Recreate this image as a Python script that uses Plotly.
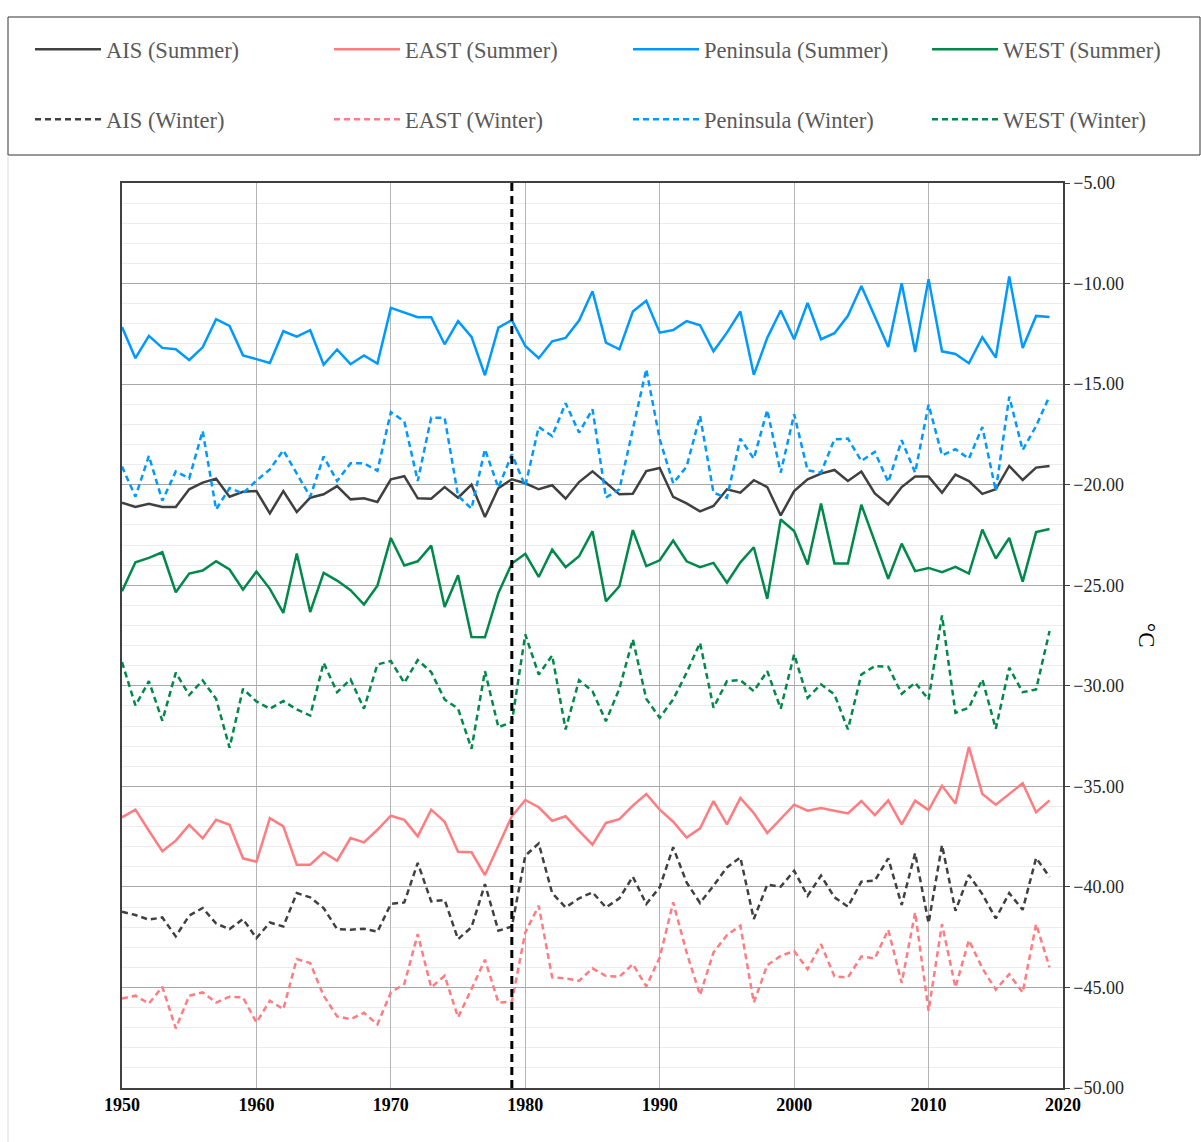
import plotly.graph_objects as go

years = list(range(1950, 2020))

pen_summer = [-12.16, -13.71, -12.60, -13.20, -13.27, -13.80, -13.17, -11.77, -12.11, -13.57,
              -13.76, -13.95, -12.37, -12.64, -12.32, -14.03, -13.28, -14.01, -13.58, -13.98,
              -11.21, -11.44, -11.67, -11.67, -13.02, -11.87, -12.65, -14.56, -12.19, -11.82,
              -13.10, -13.71, -12.87, -12.70, -11.84, -10.38, -12.94, -13.27, -11.39, -10.86,
              -12.44, -12.31, -11.87, -12.07, -13.37, -12.44, -11.39, -14.54, -12.70, -11.34,
              -12.77, -10.96, -12.77, -12.47, -11.60, -10.12, -11.64, -13.15, -9.98, -13.40,
              -9.78, -13.37, -13.50, -13.96, -12.67, -13.68, -9.65, -13.20, -11.61, -11.66]

pen_winter = [-19.10, -20.60, -18.57, -20.80, -19.34, -19.69, -17.33, -21.23, -20.17, -20.43,
              -19.80, -19.24, -18.29, -19.45, -20.60, -18.60, -19.82, -18.94, -18.94, -19.31,
              -16.39, -16.85, -19.82, -16.67, -16.67, -20.56, -21.19, -18.24, -20.15, -18.49,
              -20.07, -17.13, -17.58, -15.95, -17.41, -16.25, -20.64, -20.23, -17.28, -14.26,
              -17.74, -19.93, -19.10, -16.58, -20.40, -20.65, -17.71, -18.71, -16.29, -19.40,
              -16.50, -19.29, -19.40, -17.74, -17.71, -18.82, -18.37, -19.87, -17.79, -19.40,
              -16.02, -18.54, -18.24, -18.71, -17.13, -20.31, -15.62, -18.28, -17.08, -15.59]

ais_summer = [-20.90, -21.11, -20.95, -21.11, -21.11, -20.23, -19.90, -19.70, -20.60, -20.35,
              -20.32, -21.43, -20.32, -21.36, -20.65, -20.48, -20.07, -20.73, -20.68, -20.86,
              -19.73, -19.58, -20.68, -20.70, -20.12, -20.65, -20.00, -21.61, -20.17, -19.73,
              -19.93, -20.23, -20.03, -20.70, -19.87, -19.34, -19.90, -20.48, -20.45, -19.32,
              -19.17, -20.61, -20.93, -21.33, -21.06, -20.23, -20.40, -19.78, -20.12, -21.53,
              -20.32, -19.73, -19.45, -19.27, -19.82, -19.35, -20.44, -20.98, -20.12, -19.60,
              -19.60, -20.40, -19.50, -19.82, -20.46, -20.23, -19.07, -19.77, -19.15, -19.07]

west_summer = [-25.30, -23.86, -23.64, -23.36, -25.35, -24.42, -24.27, -23.81, -24.22, -25.22,
               -24.32, -25.18, -26.38, -23.42, -26.33, -24.39, -24.77, -25.25, -25.96, -25.02,
               -22.65, -24.02, -23.81, -23.03, -26.08, -24.50, -27.57, -27.59, -25.38, -23.92,
               -23.44, -24.59, -23.23, -24.10, -23.56, -22.31, -25.80, -25.05, -22.26, -24.05,
               -23.76, -22.78, -23.81, -24.10, -23.89, -24.88, -23.86, -23.11, -25.68, -21.73,
               -22.31, -23.97, -20.94, -23.92, -23.92, -21.00, -22.83, -24.68, -22.93, -24.30,
               -24.14, -24.35, -24.09, -24.42, -22.23, -23.67, -22.65, -24.82, -22.36, -22.20]

west_winter = [-28.82, -30.98, -29.77, -31.74, -29.35, -30.46, -29.73, -30.65, -33.08, -30.15,
               -30.78, -31.14, -30.76, -31.18, -31.48, -28.86, -30.32, -29.68, -31.14, -28.94,
               -28.77, -29.85, -28.72, -29.32, -30.68, -31.14, -33.13, -29.27, -32.06, -31.81,
               -27.45, -29.44, -28.49, -32.17, -29.72, -30.27, -31.76, -30.15, -27.69, -30.65,
               -31.59, -30.68, -29.35, -27.86, -31.09, -29.77, -29.72, -30.27, -29.27, -31.14,
               -28.44, -30.60, -29.93, -30.43, -32.17, -29.44, -29.02, -29.05, -30.40, -29.85,
               -30.68, -26.50, -31.34, -31.09, -29.68, -32.14, -29.10, -30.32, -30.18, -27.28]

east_summer = [-36.54, -36.16, -37.21, -38.23, -37.70, -36.92, -37.59, -36.66, -36.91, -38.58,
               -38.75, -36.58, -36.99, -38.90, -38.90, -38.28, -38.70, -37.57, -37.79, -37.16,
               -36.46, -36.67, -37.49, -36.16, -36.76, -38.25, -38.28, -39.41, -37.95, -36.49,
               -35.68, -36.04, -36.71, -36.49, -37.21, -37.90, -36.82, -36.63, -35.96, -35.38,
               -36.16, -36.76, -37.55, -37.09, -35.73, -36.89, -35.58, -36.33, -37.32, -36.63,
               -35.91, -36.21, -36.08, -36.21, -36.35, -35.73, -36.43, -35.70, -36.89, -35.71,
               -36.18, -34.97, -35.85, -33.04, -35.38, -35.91, -35.38, -34.85, -36.29, -35.70]

ais_winter = [-41.24, -41.40, -41.63, -41.52, -42.46, -41.43, -41.05, -41.82, -42.10, -41.60,
              -42.55, -41.77, -41.97, -40.31, -40.52, -41.05, -42.10, -42.13, -42.08, -42.23,
              -40.85, -40.77, -38.81, -40.72, -40.65, -42.60, -42.01, -39.86, -42.18, -41.97,
              -38.45, -37.84, -40.31, -41.02, -40.57, -40.27, -41.02, -40.57, -39.49, -40.85,
              -40.02, -38.03, -39.78, -40.80, -39.94, -39.03, -38.53, -41.60, -39.89, -39.99,
              -39.20, -40.44, -39.44, -40.52, -40.98, -39.74, -39.69, -38.58, -40.90, -38.32,
              -41.80, -37.92, -41.19, -39.41, -40.36, -41.57, -40.31, -41.14, -38.56, -39.51]

east_winter = [-45.55, -45.41, -45.80, -44.97, -47.04, -45.41, -45.25, -45.75, -45.46, -45.50,
               -46.74, -45.66, -46.08, -43.59, -43.79, -45.41, -46.44, -46.58, -46.26, -46.84,
               -45.25, -44.83, -42.35, -45.00, -44.42, -46.49, -45.08, -43.62, -45.75, -45.71,
               -42.26, -40.94, -44.50, -44.55, -44.67, -44.05, -44.43, -44.47, -43.84, -44.95,
               -43.51, -40.77, -43.26, -45.38, -43.26, -42.40, -41.93, -45.75, -43.89, -43.43,
               -43.19, -44.09, -42.85, -44.45, -44.50, -43.46, -43.56, -42.13, -44.78, -41.27,
               -46.16, -41.85, -45.00, -42.65, -44.05, -45.11, -44.34, -45.25, -41.85, -44.00]

break_year = 1979
x_ticks = [1950, 1960, 1970, 1980, 1990, 2000, 2010, 2020]

C_AIS = "#404040"
C_EAST = "#FF7C80"
C_PEN = "#0099FF"
C_WEST = "#00894A"
FONT = "Liberation Serif"

summer = [("AIS (Summer)", ais_summer, C_AIS),
          ("EAST (Summer)", east_summer, C_EAST),
          ("Peninsula (Summer)", pen_summer, C_PEN),
          ("WEST (Summer)", west_summer, C_WEST)]
winter = [("AIS (Winter)", ais_winter, C_AIS),
          ("EAST (Winter)", east_winter, C_EAST),
          ("Peninsula (Winter)", pen_winter, C_PEN),
          ("WEST (Winter)", west_winter, C_WEST)]

W, H = 1201, 1142
ml, mr, mt, mb = 122, 138, 183, 54
pw, ph = W - ml - mr, H - mt - mb

def px(xp):
    return (xp - ml) / pw

def py(yp):
    return (H - mb - yp) / ph

fig = go.Figure()
legend_layout = {}
col_x = [30, 329, 628, 927]
row_top = [28, 98]
idx = 0
for r, group in enumerate([summer, winter]):
    for c, (name, vals, col) in enumerate(group):
        idx += 1
        lname = "legend" if idx == 1 else f"legend{idx}"
        line = dict(color=col, width=2.5)
        if r == 1:
            line["dash"] = "6px,4px"
        fig.add_trace(go.Scatter(x=years, y=vals, name=name, mode="lines",
                                 line=line, legend=lname))
        legend_layout[lname] = dict(x=px(col_x[c]), y=py(row_top[r]),
                                    xanchor="left", yanchor="top", itemwidth=66,
                                    font=dict(family=FONT, size=22.5, color="#595959"),
                                    bgcolor="rgba(0,0,0,0)", borderwidth=0)

fig.update_layout(
    width=W, height=H,
    margin=dict(l=ml, r=mr, t=mt, b=mb),
    paper_bgcolor="white", plot_bgcolor="white",
    font=dict(family=FONT, color="#262626"),
    showlegend=True,
    **legend_layout,
)

fig.update_xaxes(range=[1950, 2020], tickvals=x_ticks, ticktext=[str(v) for v in x_ticks],
                 tickfont=dict(family=FONT, size=18, color="black", weight="bold"),
                 showgrid=True, gridcolor="#b4b4b4", gridwidth=1,
                 showline=True, linecolor="#404040", linewidth=1.5, mirror=True,
                 ticks="", zeroline=False)

fig.update_yaxes(range=[-50, -5], dtick=5, tick0=-50, tickformat=".2f", side="right",
                 tickfont=dict(family=FONT, size=18, color="#262626"),
                 showgrid=True, gridcolor="#a8a8a8", gridwidth=1,
                 minor=dict(dtick=1, showgrid=True, gridcolor="#ececec", gridwidth=1),
                 showline=True, linecolor="#404040", linewidth=1.5, mirror=True,
                 ticks="outside", ticklen=5, tickcolor="#404040", zeroline=False)

# vertical break line
fig.add_shape(type="line", xref="x", yref="paper", x0=break_year, x1=break_year, y0=0, y1=1,
              line=dict(color="black", width=3, dash="8px,5px"))

# legend box
fig.add_shape(type="rect", xref="paper", yref="paper",
              x0=px(8), x1=px(1200), y0=py(155), y1=py(17),
              line=dict(color="#333333", width=1), fillcolor="rgba(0,0,0,0)")
# faint chart-area border at left
fig.add_shape(type="line", xref="paper", yref="paper",
              x0=px(8), x1=px(8), y0=py(155), y1=py(1142),
              line=dict(color="#dcdcdc", width=1))

fig.add_annotation(text="°C", xref="paper", yref="paper", x=px(1147), y=py(635),
                   xanchor="center", yanchor="middle",
                   showarrow=False, textangle=90,
                   font=dict(family=FONT, size=23, color="black"))

fig.write_html("out.html")
